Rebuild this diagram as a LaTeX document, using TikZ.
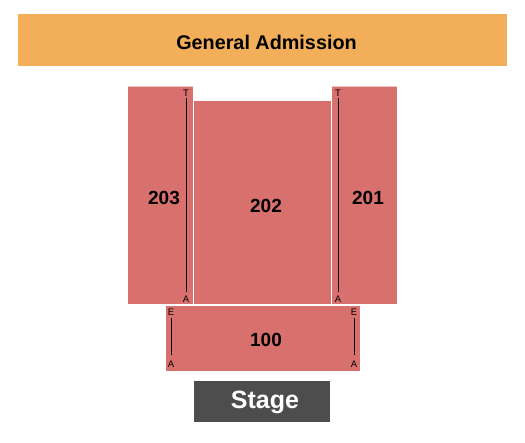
\documentclass[tikz,border=0pt]{standalone}
\usepackage{fontspec}
\setmainfont{Liberation Sans}
\definecolor{sec}{HTML}{D8706E}
\definecolor{ga}{HTML}{F3AE5A}
\definecolor{stagec}{HTML}{4D4D4D}
\begin{document}
\begin{tikzpicture}[x=1pt,y=-1pt,
  secbox/.style={fill=sec,draw=none},
  lbl/.style={font=\bfseries\fontsize{19}{20}\selectfont,text=black,inner sep=0},
  rowl/.style={font=\fontsize{9.5}{10}\selectfont,inner sep=0},
  rowline/.style={line width=1pt,black}]
\useasboundingbox (0,0) rectangle (525,443);
% General Admission
\fill[ga] (18,14) rectangle (507,66);
\node[font=\bfseries\fontsize{19.8}{21}\selectfont,inner sep=0] (gal) at (266.5,42) {General Admission};
% 203
\fill[sec] (128,87) rectangle (193,304);
\draw[sec!40,line width=0.8pt] (128,86.5) -- (193,86.5);
\node[lbl] (l203) at (164,198) {203};
\node[rowl] (t203) at (186,93) {T};
\node[rowl] (a203) at (186,299) {A};
\draw[rowline] (186,98) -- (186,292);
% 202
\fill[sec] (194,101) rectangle (331,304);
\node[lbl] (l202) at (266,206) {202};
% 201
\fill[sec] (332,87) rectangle (397,304);
\draw[sec!40,line width=0.8pt] (332,86.5) -- (397,86.5);
\node[lbl] (l201) at (368,198) {201};
\node[rowl] (t201) at (338,93) {T};
\node[rowl] (a201) at (338,299) {A};
\draw[rowline] (338,98) -- (338,292);
% 100
\fill[sec] (166,306) rectangle (360,371);
\node[lbl] (l100) at (266,340) {100};
\node[rowl] (e1) at (171,312) {E};
\node[rowl] (a1) at (171,364) {A};
\draw[rowline,line width=0.8pt] (171,318) -- (171,355);
\node[rowl] (e2) at (354,312) {E};
\node[rowl] (a2) at (354,364) {A};
\draw[rowline,line width=0.8pt] (354,318) -- (354,355);
% Stage
\fill[stagec] (194,381) rectangle (330,422);
\node[font=\bfseries\fontsize{25}{26}\selectfont,text=white,inner sep=0] (stg) at (265,402) {Stage};
\end{tikzpicture}
\end{document}
